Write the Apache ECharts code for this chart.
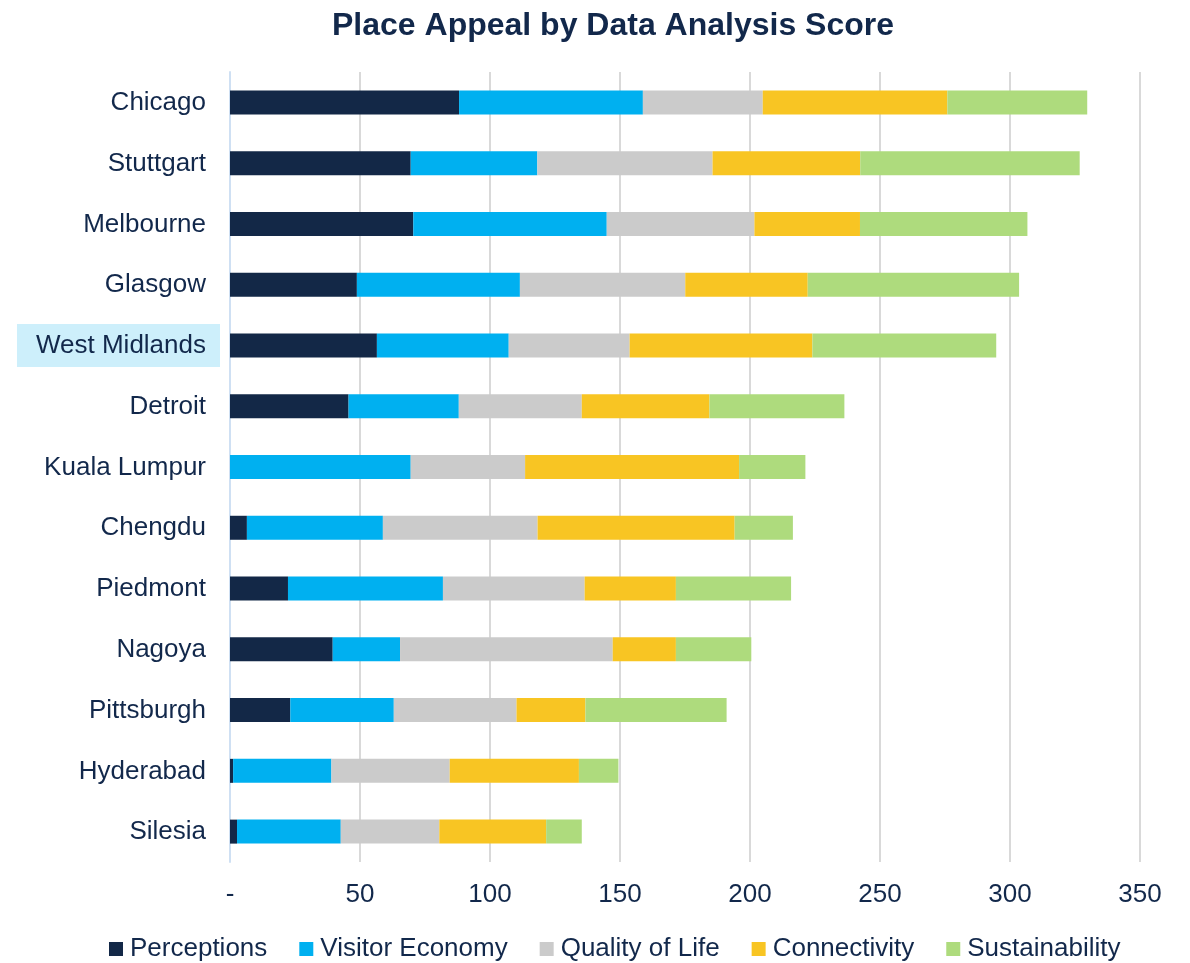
<!DOCTYPE html>
<html>
<head>
<meta charset="utf-8">
<title>Place Appeal by Data Analysis Score</title>
<script src="https://cdn.jsdelivr.net/npm/echarts@6/dist/echarts.min.js"></script>
<style>
  html, body { margin: 0; padding: 0; background: #fff; }
  #main { width: 1190px; height: 963px; }
</style>
</head>
<body>
<div id="main"></div>
<script>
// 城市（从上到下）
var cities = ['Chicago', 'Stuttgart', 'Melbourne', 'Glasgow', 'West Midlands', 'Detroit',
    'Kuala Lumpur', 'Chengdu', 'Piedmont', 'Nagoya', 'Pittsburgh', 'Hyderabad', 'Silesia'];

// 各项得分
var perceptions = [88.1, 69.5, 70.5, 48.8, 56.5, 45.6, 0, 6.5, 22.3, 39.5, 23.2, 1.2, 2.7];
var visitorEconomy = [70.7, 48.7, 74.4, 62.7, 50.7, 42.4, 69.5, 52.3, 59.6, 25.9, 39.8, 37.8, 39.9];
var qualityOfLife = [46.1, 67.4, 56.8, 63.6, 46.5, 47.3, 44.0, 59.5, 54.5, 81.8, 47.2, 45.5, 37.9];
var connectivity = [71.0, 56.8, 40.6, 47.1, 70.3, 49.1, 82.3, 75.8, 35.1, 24.3, 26.5, 49.7, 41.1];
var sustainability = [53.8, 84.4, 64.4, 81.3, 70.7, 51.9, 25.5, 22.4, 44.3, 29.0, 54.3, 15.2, 13.7];

var seriesNames = ['Perceptions', 'Visitor Economy', 'Quality of Life', 'Connectivity', 'Sustainability'];
var seriesValues = [perceptions, visitorEconomy, qualityOfLife, connectivity, sustainability];
var seriesColors = ['#132847', '#00b0f0', '#cbcbcb', '#f8c523', '#aedb7d'];

// 需要高亮的城市
var highlightCity = 'West Midlands';

var textColor = '#12284b';
var fontName = '"Liberation Sans", Arial, sans-serif';

var myChart = null;

function buildSeries() {
    var list = [];
    seriesNames.forEach(function(name, i) {
        list.push({
            name: name,
            type: 'bar',
            stack: 'total',
            barWidth: 24,
            data: seriesValues[i],
            itemStyle: { color: seriesColors[i] },
            emphasis: { disabled: true }
        });
    });
    return list;
}

function draw() {
    myChart = echarts.init(document.getElementById('main'));

    var option = {
        backgroundColor: '#fff',
        textStyle: { fontFamily: fontName },
        title: {
            text: 'Place Appeal by Data Analysis Score',
            left: 327,
            top: 5,
            textStyle: {
                color: textColor,
                fontSize: 32,
                fontWeight: 'bold',
                fontFamily: fontName
            }
        },
        legend: {
            data: seriesNames,
            bottom: -4,
            left: 104,
            itemWidth: 14,
            itemHeight: 14,
            itemGap: 32,
            icon: 'rect',
            textStyle: { color: textColor, fontSize: 26, fontFamily: fontName, padding: [0, 0, 0, 2] }
        },
        grid: {
            left: 230,
            right: 50,
            top: 72,
            bottom: 101,
            containLabel: false
        },
        xAxis: {
            type: 'value',
            min: 0,
            max: 350,
            interval: 50,
            axisLine: { show: false },
            axisTick: { show: false },
            splitLine: { lineStyle: { color: '#d9d9d9', width: 2 } },
            axisLabel: {
                color: textColor,
                fontSize: 26,
                margin: 20,
                fontFamily: fontName,
                formatter: function(v) {
                    return v === 0 ? '-' : String(v);
                }
            }
        },
        yAxis: {
            type: 'category',
            inverse: true,
            data: cities,
            axisLine: { lineStyle: { color: '#cfe0f3', width: 2 } },
            axisTick: { show: false },
            axisLabel: {
                margin: 10,
                fontSize: 26,
                color: textColor,
                fontFamily: fontName,
                formatter: function(v) {
                    if (v == highlightCity) {
                        return '{hl|' + v + '}';
                    }
                    return '{n|' + v + '}';
                },
                rich: {
                    n: {
                        fontSize: 26,
                        color: textColor,
                        fontFamily: fontName,
                        padding: [9, 14, 8, 14]
                    },
                    hl: {
                        fontSize: 26,
                        color: textColor,
                        fontFamily: fontName,
                        backgroundColor: '#cdeffb',
                        padding: [9, 14, 8, 19]
                    }
                }
            }
        },
        series: buildSeries()
    };

    myChart.setOption(option);
}

window.addEventListener('load', draw, false);
</script>
</body>
</html>
